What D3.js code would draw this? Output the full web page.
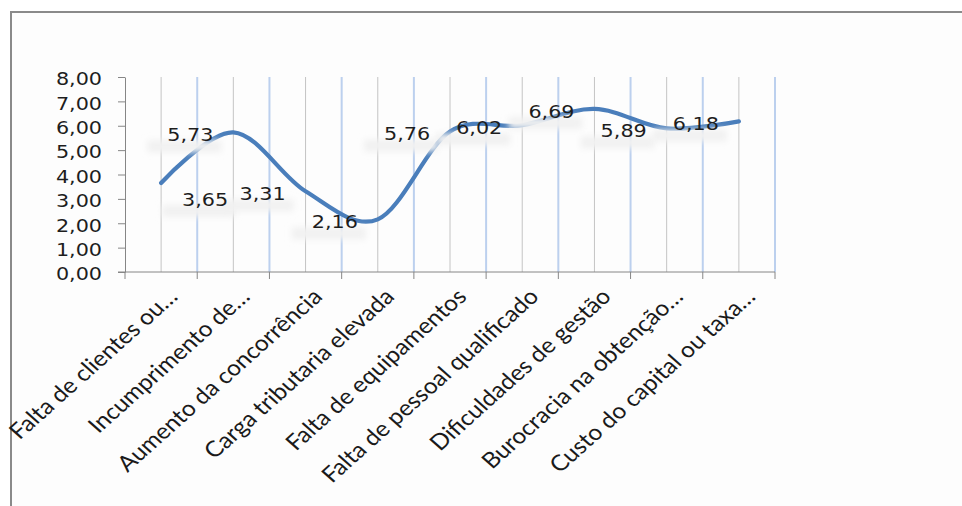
<!DOCTYPE html>
<html>
<head>
<meta charset="utf-8">
<script src="https://cdn.jsdelivr.net/npm/d3@7/dist/d3.min.js"></script>
<style>
  html, body { margin: 0; padding: 0; background: #ffffff; overflow: hidden; }
  svg { display: block; }
</style>
</head>
<body>
<script>
// ---- data ----
const categories = [
  "Falta de clientes ou…",
  "Incumprimento de…",
  "Aumento da concorrência",
  "Carga tributaria elevada",
  "Falta de equipamentos",
  "Falta de pessoal qualificado",
  "Dificuldades de gestão",
  "Burocracia na obtenção…",
  "Custo do capital ou taxa…"
];
const values = [3.65, 5.73, 3.31, 2.16, 5.76, 6.02, 6.69, 5.89, 6.18];
const yTicks = [0, 1, 2, 3, 4, 5, 6, 7, 8];

// ---- layout ----
const W = 962, H = 506;
const SX = 1.12; // horizontal stretch of the text
const fmt = d => d.toFixed(2).replace(".", ",");

const svg = d3.select("body").append("svg").attr("width", W).attr("height", H);

const defs = svg.append("defs");
defs.append("filter").attr("id", "blur").attr("x", "-50%").attr("y", "-100%")
  .attr("width", "200%").attr("height", "300%")
  .append("feGaussianBlur").attr("stdDeviation", 3);

// outer frame (top and left edges visible)
svg.append("rect").attr("x", 11).attr("y", 12).attr("width", W).attr("height", H)
  .attr("fill", "#fdfdfd");
svg.append("path").attr("d", `M11,${H} L11,12 L${W},12`)
  .attr("fill", "none").attr("stroke", "#8a8a8a").attr("stroke-width", 2);

const x = d3.scaleBand().domain(categories).range([125, 775]).paddingInner(0).paddingOuter(0);
const y = d3.scaleLinear().domain([0, 8]).range([272, 77]);
const cx = c => x(c) + x.bandwidth() / 2;
const boundaries = d3.range(categories.length + 1).map(i => x.range()[0] + i * x.step());

// gridlines: at category centres (grey) and boundaries (light blue)
svg.append("g").selectAll("line").data(categories).join("line")
  .attr("x1", d => cx(d)).attr("x2", d => cx(d))
  .attr("y1", y(8)).attr("y2", y(0))
  .attr("stroke", "#c4c4c4").attr("stroke-width", 1);
svg.append("g").selectAll("line").data(boundaries.slice(1)).join("line")
  .attr("x1", d => d).attr("x2", d => d)
  .attr("y1", y(8)).attr("y2", y(0))
  .attr("stroke", "#bcd0ee").attr("stroke-width", 2);

// y axis
const yAxis = svg.append("g").attr("transform", `translate(125,0)`)
  .call(d3.axisLeft(y).tickValues(yTicks).tickSize(7).tickSizeOuter(0).tickFormat(fmt));
yAxis.select(".domain").attr("stroke", "#868686").attr("stroke-width", 1);
yAxis.selectAll(".tick line").attr("stroke", "#868686");
yAxis.selectAll(".tick text")
  .attr("x", -23 / SX).attr("dy", "0.42em")
  .attr("transform", `scale(${SX},1)`)
  .attr("font-family", "DejaVu Sans").attr("font-size", 18.5).attr("fill", "#1e1e1e");

// x axis (domain + ticks at boundaries)
svg.append("line").attr("x1", 118).attr("x2", boundaries[boundaries.length - 1])
  .attr("y1", y(0)).attr("y2", y(0)).attr("stroke", "#868686").attr("stroke-width", 1);
svg.append("g").selectAll("line").data(boundaries).join("line")
  .attr("x1", d => d).attr("x2", d => d)
  .attr("y1", y(0)).attr("y2", y(0) + 7)
  .attr("stroke", "#868686").attr("stroke-width", 1);

// category labels
svg.append("g").selectAll("text").data(categories).join("text")
  .attr("transform", d => `translate(${cx(d) + 18},298) scale(${SX},1) rotate(-45)`)
  .attr("text-anchor", "end")
  .attr("font-family", "Lato").attr("font-size", 22).attr("fill", "#1a1a1a")
  .text(d => d);

// smoothed line
const pts = categories.map((c, i) => ({ c, v: values[i] }));
const line = d3.line().x(d => cx(d.c)).y(d => y(d.v)).curve(d3.curveCardinal.tension(0));
svg.append("path").datum(pts).attr("d", line)
  .attr("fill", "none").attr("stroke", "#4a7ebb").attr("stroke-width", 4.2)
  .attr("stroke-linecap", "round");

// data labels (placed left of point, first one below-right)
const lab = pts.map((d, i) => ({
  d,
  lx: i === 0 ? cx(d.c) + 44 : cx(d.c) - 43,
  ly: y(d.v) + (i === 0 ? 16 : 2)
}));
svg.append("g").selectAll("rect").data(lab).join("rect")
  .attr("x", d => d.lx - 6 - 37).attr("y", d => d.ly + 12 - 6)
  .attr("width", 74).attr("height", 12)
  .attr("fill", "#f1f1f1").attr("filter", "url(#blur)");
svg.append("g").selectAll("text").data(lab).join("text")
  .attr("transform", d => `translate(${d.lx},${d.ly}) scale(${SX},1)`)
  .attr("text-anchor", "middle").attr("dy", "0.36em")
  .attr("font-family", "DejaVu Sans").attr("font-size", 18.5).attr("fill", "#1e1e1e")
  .text(d => fmt(d.d.v));
</script>
</body>
</html>
